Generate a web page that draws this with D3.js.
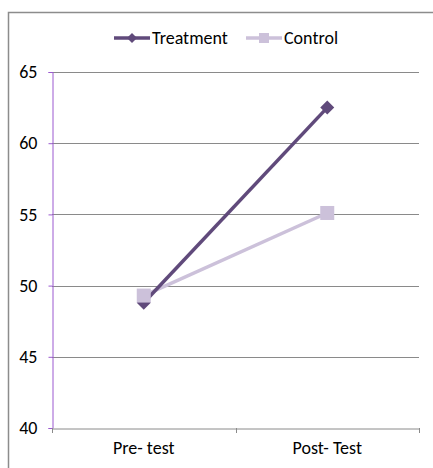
<!DOCTYPE html>
<html>
<head>
<meta charset="utf-8">
<script src="https://cdn.jsdelivr.net/npm/d3@7"></script>
<style>
  html, body { margin: 0; padding: 0; background: #fff; }
  svg { display: block; }
  text { font-family: Carlito, Calibri, "Open Sans", sans-serif; fill: #000; }
</style>
</head>
<body>
<svg id="chart" width="433" height="468"></svg>
<script>
// Test scores before and after, per group
const categories = ["Pre- test", "Post- Test"];
const treatment = [48.8, 62.5];
const control = [49.3, 55.1];
const yTicks = [40, 45, 50, 55, 60, 65];
const seriesNames = ["Treatment", "Control"];

const colors = { Treatment: "#604a7b", Control: "#ccc1da" };
const fontSize = "18px";

const svg = d3.select("#chart");
const W = 433, H = 468;

// chart frame
svg.append("rect")
  .attr("x", 8.5).attr("y", 12.5)
  .attr("width", W).attr("height", H)
  .attr("fill", "#fff").attr("stroke", "#8c8c8c").attr("stroke-width", 1.5);

const plot = { left: 52, right: 419, top: 72, bottom: 428 };

const x = d3.scaleBand().domain(categories).range([plot.left, plot.right]);
const y = d3.scaleLinear().domain([40, 65]).range([plot.bottom, plot.top]);

// horizontal gridlines
svg.append("g")
  .selectAll("line")
  .data(yTicks.filter(t => t > 40))
  .join("line")
  .attr("x1", plot.left).attr("x2", plot.right)
  .attr("y1", d => Math.round(y(d)) + 0.5).attr("y2", d => Math.round(y(d)) + 0.5)
  .attr("stroke", "#8a8a8a").attr("stroke-width", 1);

// y axis
const yAxis = svg.append("g")
  .attr("transform", `translate(${plot.left + 0.5},0)`)
  .call(d3.axisLeft(y).tickValues(yTicks).tickSize(4).tickPadding(11).tickFormat(d3.format("d")));
yAxis.select(".domain").attr("stroke", "#9b59d0");
yAxis.selectAll(".tick line").attr("stroke", "#9b59d0");
yAxis.selectAll(".tick text").style("font-size", fontSize).attr("fill", "#000");

// x axis
const xAxis = svg.append("g")
  .attr("transform", `translate(0,${Math.round(plot.bottom) + 0.5})`)
  .call(d3.axisBottom(x).tickSize(0).tickPadding(13));
xAxis.select(".domain").attr("stroke", "#8a8a8a");
xAxis.selectAll(".tick text").style("font-size", fontSize).attr("fill", "#000");
// category separator ticks
const bounds = [plot.left, ...categories.map(c => x(c) + x.bandwidth())];
svg.append("g").selectAll("line").data(bounds).join("line")
  .attr("x1", d => Math.round(d) + 0.5).attr("x2", d => Math.round(d) + 0.5)
  .attr("y1", plot.bottom).attr("y2", plot.bottom + 5)
  .attr("stroke", "#8a8a8a");

const cx = c => x(c) + x.bandwidth() / 2;
const line = d3.line().x(d => cx(d.c)).y(d => y(d.v));

const series = [
  { name: "Treatment", values: treatment, marker: "diamond" },
  { name: "Control", values: control, marker: "square" }
];

function drawMarker(g, type, px, py, color) {
  if (type === "diamond") {
    g.append("path")
      .attr("d", `M${px},${py - 7}L${px + 7},${py}L${px},${py + 7}L${px - 7},${py}Z`)
      .attr("fill", color);
  } else {
    g.append("rect")
      .attr("x", px - 7).attr("y", py - 7).attr("width", 14).attr("height", 14)
      .attr("fill", color);
  }
}

// control drawn first so treatment sits on top of its line, markers last
const order = [series[1], series[0]];
order.forEach(s => {
  const pts = categories.map((c, i) => ({ c, v: s.values[i] }));
  svg.append("path").datum(pts)
    .attr("d", line)
    .attr("fill", "none")
    .attr("stroke", colors[s.name])
    .attr("stroke-width", 3.5);
});
series.forEach(s => {
  const g = svg.append("g");
  categories.forEach((c, i) => drawMarker(g, s.marker, cx(c), y(s.values[i]), colors[s.name]));
});

// legend
const legend = svg.append("g");
const legendItems = [
  { name: seriesNames[0], marker: "diamond", x0: 114 },
  { name: seriesNames[1], marker: "square", x0: 246 }
];
legendItems.forEach(it => {
  const ly = 38;
  legend.append("line")
    .attr("x1", it.x0).attr("x2", it.x0 + 36)
    .attr("y1", ly).attr("y2", ly)
    .attr("stroke", colors[it.name]).attr("stroke-width", 3.5);
  if (it.marker === "diamond") {
    legend.append("path")
      .attr("d", `M${it.x0 + 18},${ly - 5}L${it.x0 + 23},${ly}L${it.x0 + 18},${ly + 5}L${it.x0 + 13},${ly}Z`)
      .attr("fill", colors[it.name]);
  } else {
    legend.append("rect")
      .attr("x", it.x0 + 13).attr("y", ly - 5).attr("width", 10).attr("height", 10)
      .attr("fill", colors[it.name]);
  }
  legend.append("text")
    .attr("x", it.x0 + 38).attr("y", ly)
    .attr("dy", "0.35em")
    .style("font-size", fontSize)
    .text(it.name);
});
</script>
</body>
</html>
